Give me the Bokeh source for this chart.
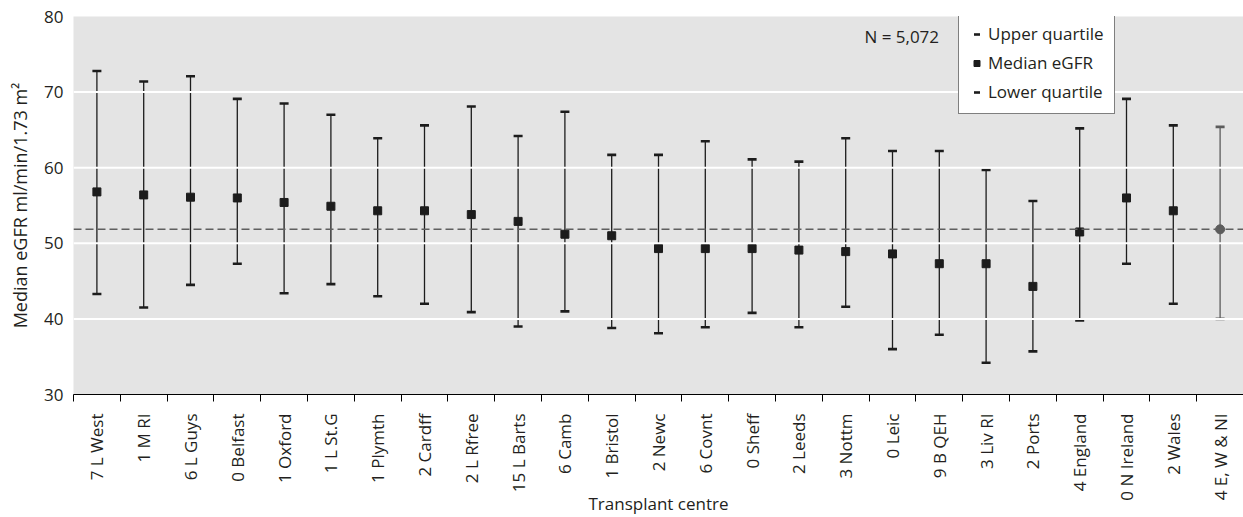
from bokeh.plotting import figure
from bokeh.models import (ColumnDataSource, Range1d, LinearAxis, FixedTicker, Span,
                          Legend, LegendItem, Label)
from bokeh.embed import file_html
from bokeh.resources import INLINE
import math

# ---- data ----
categories = ["7 L West", "1 M RI", "6 L Guys", "0 Belfast", "1 Oxford", "1 L St.G",
              "1 Plymth", "2 Cardff", "2 L Rfree", "15 L Barts", "6 Camb", "1 Bristol",
              "2 Newc", "6 Covnt", "0 Sheff", "2 Leeds", "3 Nottm", "0 Leic", "9 B QEH",
              "3 Liv RI", "2 Ports", "4 England", "0 N Ireland", "2 Wales", "4 E, W & NI"]
median_egfr = [56.8, 56.4, 56.1, 56.0, 55.4, 54.9, 54.3, 54.3, 53.8, 52.9, 51.2, 51.0,
               49.3, 49.3, 49.3, 49.1, 48.9, 48.6, 47.3, 47.3, 44.3, 51.5, 56.0, 54.3, 51.85]
upper_quartile = [72.8, 71.4, 72.1, 69.1, 68.5, 67.0, 63.9, 65.6, 68.1, 64.2, 67.4, 61.7,
                  61.7, 63.5, 61.1, 60.8, 63.9, 62.2, 62.2, 59.7, 55.6, 65.2, 69.1, 65.6, 65.4]
lower_quartile = [43.3, 41.5, 44.5, 47.3, 43.4, 44.6, 43.0, 42.0, 40.9, 39.0, 41.0, 38.8,
                  38.1, 38.9, 40.8, 38.9, 41.6, 36.0, 37.9, 34.2, 35.7, 39.8, 47.3, 42.0, 40.0]
overall_median = 51.85
n_patients = "N = 5,072"
x_title = "Transplant centre"
y_title = "Median eGFR ml/min/1.73 m\u00b2"
y_ticks = [30, 40, 50, 60, 70, 80]
y_grid = [40, 50, 60, 70]

# ---- styling ----
FONT = "Open Sans"
TXT = "#231f20"
n = len(categories)
xs = list(range(1, n + 1))
colors = ["#1c1c1c"] * (n - 1) + ["#5c5c5c"]
markers = ["square"] * (n - 1) + ["circle"]
sizes = [8] * (n - 1) + [9]

src = ColumnDataSource(dict(x=xs, median=median_egfr, upper=upper_quartile,
                            lower=lower_quartile, color=colors, marker=markers, size=sizes))

p = figure(width=1243, height=517, output_backend="svg", toolbar_location=None,
           x_range=Range1d(0.5, n + 0.5), y_range=Range1d(30, 80),
           min_border_left=73, min_border_right=0, min_border_top=16, min_border_bottom=122,
           x_axis_type=None, y_axis_type=None)
p.background_fill_color = "#e4e4e4"
p.border_fill_color = "white"
p.outline_line_color = None

# y axis
yax = LinearAxis(ticker=FixedTicker(ticks=y_ticks, minor_ticks=[]))
yax.axis_line_color = None
yax.major_tick_out = 0
yax.major_tick_in = 0
yax.minor_tick_out = 0
yax.major_label_standoff = 10
yax.major_label_text_font = FONT
yax.major_label_text_font_size = "17px"
yax.major_label_text_color = TXT
yax.axis_label = y_title
yax.axis_label_text_font = FONT
yax.axis_label_text_font_size = "18px"
yax.axis_label_text_font_style = "normal"
yax.axis_label_text_color = TXT
yax.axis_label_standoff = 9
p.add_layout(yax, "left")

# x axis (labels at centres, minor ticks at category boundaries)
boundaries = [i + 0.5 for i in range(n + 1)]
xax = LinearAxis(ticker=FixedTicker(ticks=xs, minor_ticks=boundaries))
xax.major_label_overrides = {x: c for x, c in zip(xs, categories)}
xax.major_label_orientation = math.pi / 2
xax.major_tick_out = 0
xax.major_tick_in = 0
xax.minor_tick_out = 7
xax.minor_tick_in = 0
xax.minor_tick_line_color = "black"
xax.axis_line_color = "black"
xax.axis_line_width = 1
xax.major_label_standoff = 12
xax.major_label_text_font = FONT
xax.major_label_text_font_size = "17px"
xax.major_label_text_color = TXT
xax.axis_label = x_title
xax.axis_label_text_font = FONT
xax.axis_label_text_font_size = "17px"
xax.axis_label_text_font_style = "normal"
xax.axis_label_text_color = TXT
xax.axis_label_standoff = -12
p.add_layout(xax, "below")

# white horizontal gridlines
for g in y_grid:
    p.add_layout(Span(location=g, dimension="width", line_color="white", line_width=2))

# overall median dashed line
p.add_layout(Span(location=overall_median, dimension="width", line_color="#5f5f5f",
                  line_width=1.5, line_dash="8 4"))

# whiskers
p.segment(x0="x", y0="lower", x1="x", y1="upper", source=src, line_color="color", line_width=1.3)
up_r = p.scatter("x", "upper", source=src, marker="dash", size=9, line_width=2.6, line_color="color")
lo_r = p.scatter("x", "lower", source=src, marker="dash", size=9, line_width=2.6, line_color="color")
med_r = p.scatter("x", "median", source=src, marker="marker", size="size",
                  fill_color="color", line_color="color")

# N label
p.add_layout(Label(x=17.4, y=77.3, text=n_patients, text_baseline="middle", text_align="left",
                   text_font=FONT, text_font_size="17px", text_color=TXT))

legend = Legend(items=[LegendItem(label="Upper quartile", renderers=[up_r], index=0),
                       LegendItem(label="Median eGFR", renderers=[med_r], index=0),
                       LegendItem(label="Lower quartile", renderers=[lo_r], index=0)],
                location=(885, 280))
legend.label_text_font = FONT
legend.label_text_font_size = "17px"
legend.label_text_color = TXT
legend.glyph_width = 15
legend.glyph_height = 22
legend.label_height = 22
legend.label_standoff = 4
legend.spacing = 6
legend.padding = 10
legend.margin = 0
legend.border_line_color = "black"
legend.border_line_width = 1
legend.background_fill_color = "white"
legend.background_fill_alpha = 1
p.add_layout(legend, "center")

open("out.html", "w").write(file_html(p, INLINE))
